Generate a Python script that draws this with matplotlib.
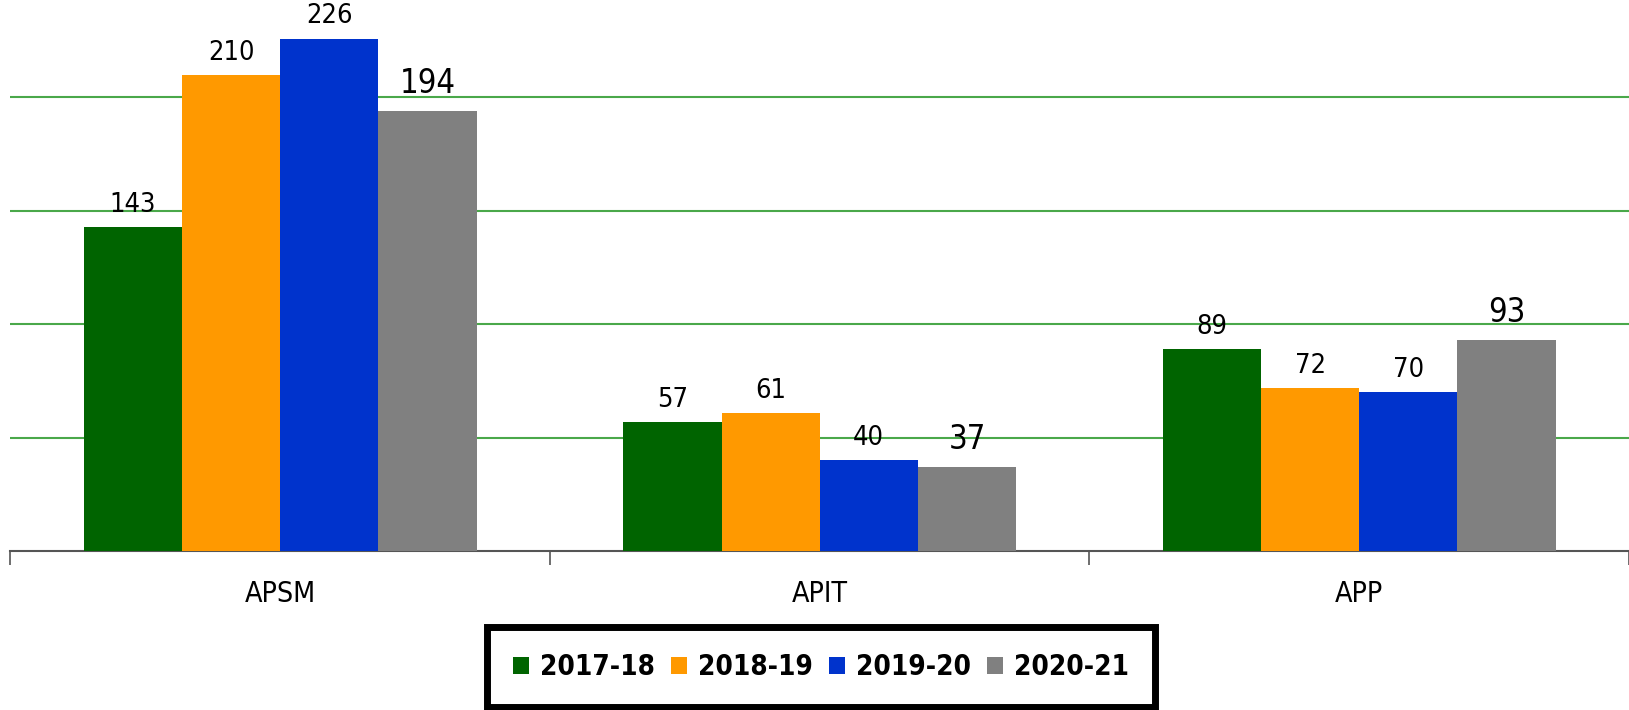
import matplotlib
matplotlib.use("Agg")
import matplotlib.pyplot as plt
import numpy as np

categories = ["APSM", "APIT", "APP"]
series_names = ["2017-18", "2018-19", "2019-20", "2020-21"]
values_2017 = [143, 57, 89]
values_2018 = [210, 61, 72]
values_2019 = [226, 40, 70]
values_2020 = [194, 37, 93]
colors = ["#006400", "#FF9900", "#0033CC", "#808080"]

# narrow face to get close to the condensed font of the original
plt.rcParams['font.family'] = ['DejaVu Sans']
plt.rcParams['font.stretch'] = 'condensed'

fig = plt.figure(figsize=(16.29, 7.10), dpi=100)
ax = fig.add_axes([0.0064, 0.224, 0.9936, 0.776])

x = np.arange(len(categories))
width = 0.182
all_values = [values_2017, values_2018, values_2019, values_2020]
label_sizes = [19.5, 19.5, 19.5, 23.5]
label_gap = [4, 4, 4, 5]

for i, (vals, name, color) in enumerate(zip(all_values, series_names, colors)):
    offset = (i - 1.5) * width
    bars = ax.bar(x + offset, vals, width, color=color, label=name, zorder=3)
    for bar, v in zip(bars, vals):
        ax.text(bar.get_x() + bar.get_width() / 2, v + label_gap[i], f"{v}",
                ha='center', va='bottom', fontsize=label_sizes[i], zorder=4)

ax.set_ylim(0, 243)
ax.set_xlim(-0.5, 2.5)
ax.set_yticks([50, 100, 150, 200])
ax.yaxis.grid(True, color='#4aa84a', linewidth=1.5, zorder=0)
ax.tick_params(axis='y', left=False, labelleft=False)

for side in ['top', 'right', 'left']:
    ax.spines[side].set_visible(False)
ax.spines['bottom'].set_color('#555555')
ax.spines['bottom'].set_linewidth(1.5)

# tick marks on group boundaries, names centred under groups
ax.set_xticks([-0.5, 0.5, 1.5, 2.5])
ax.set_xticklabels([])
ax.tick_params(axis='x', length=10, width=1.2, color='#555555', direction='out')
ax.set_xticks(x, minor=True)
ax.set_xticklabels(categories, minor=True, fontsize=20.5)
ax.tick_params(axis='x', which='minor', length=0, pad=21)

leg = fig.legend(loc='lower center', bbox_to_anchor=(0.504, -0.016), ncol=4,
                 frameon=True, fancybox=False, edgecolor='black', framealpha=1,
                 prop={'size': 20, 'weight': 'bold'},
                 handlelength=0.55, handleheight=0.55, handletextpad=0.4,
                 columnspacing=0.6, borderpad=0.95)
leg.get_frame().set_linewidth(5)

fig.savefig("out.png", dpi=100)
